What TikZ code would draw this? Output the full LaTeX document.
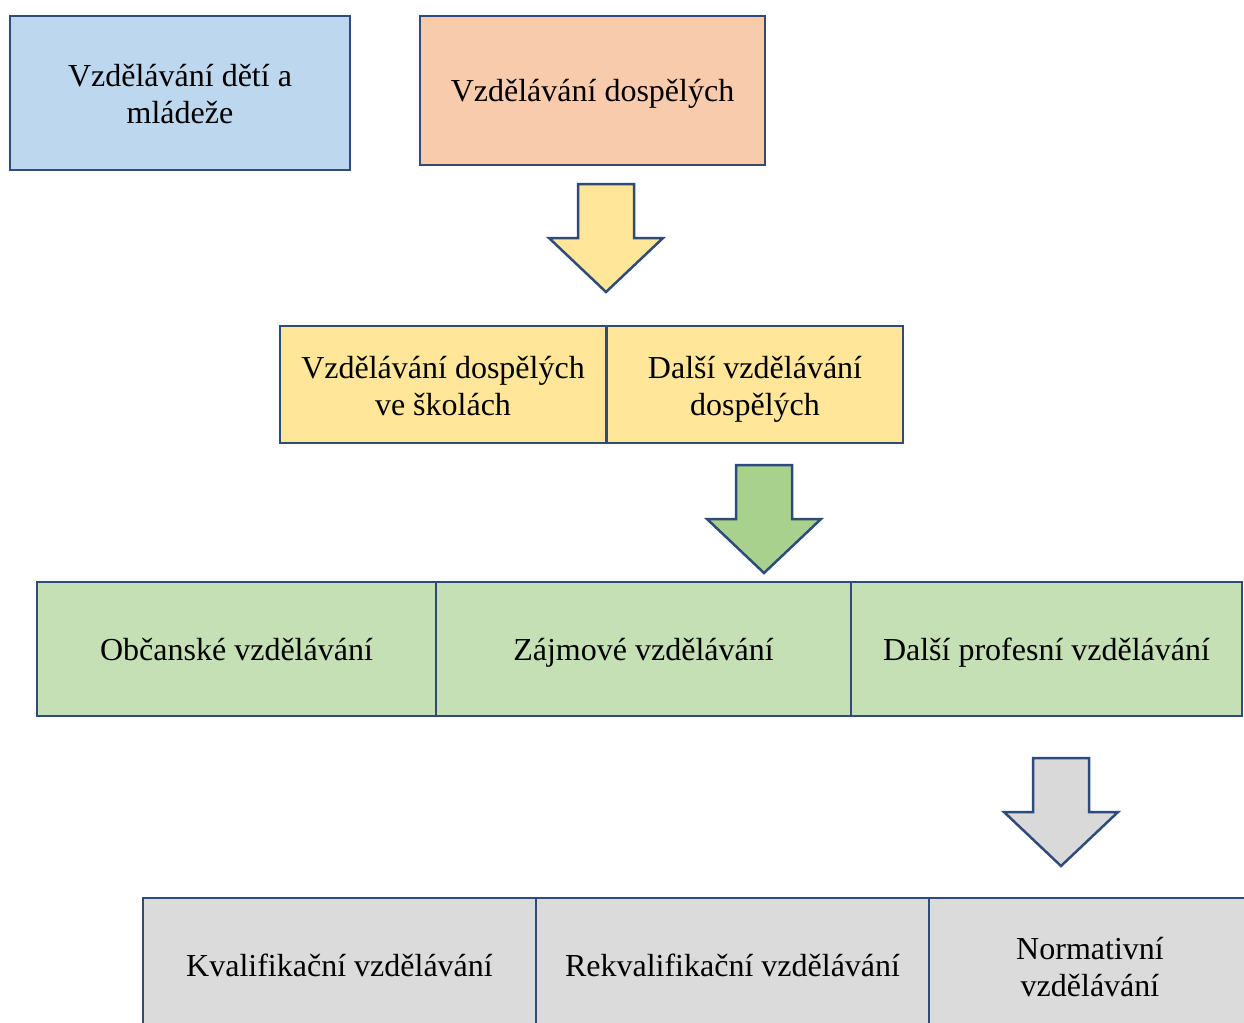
\documentclass[tikz,border=0pt]{standalone}
\usepackage{fontspec}
\setmainfont{Liberation Serif}
\usepackage{tikz}

\definecolor{edgeblue}{HTML}{2F4B7C}
\definecolor{childblue}{HTML}{BDD7EE}
\definecolor{adultorange}{HTML}{F8CBAD}
\definecolor{schoolyellow}{HTML}{FFE699}
\definecolor{boxgreen}{HTML}{C5E0B4}
\definecolor{arrowgreen}{HTML}{A9D18E}
\definecolor{boxgray}{HTML}{DBDBDB}
\definecolor{arrowgray}{HTML}{D9D9D9}

\newcommand{\topstrut}{\rule{0pt}{31pt}}
\newcommand{\tallstrut}{\rule{0pt}{33pt}}
\newcommand{\botstrut}{\rule[-8pt]{0pt}{8pt}}

\tikzset{
  downarrow/.pic={
    \path[pic actions] (-28,0) -- (28,0) -- (28,54) -- (57,54) -- (0,108)
      -- (-57,54) -- (-28,54) -- cycle;
  }
}

\begin{document}
\begin{tikzpicture}[x=1pt,y=-1pt,
                    every node/.style={draw=edgeblue,line width=2.5pt,inner sep=0pt,
                      align=center,font=\fontsize{32}{37}\selectfont,
                      execute at begin node=\topstrut,execute at end node=\botstrut},
                    every pic/.style={draw=edgeblue,line width=2.5pt}]
  \useasboundingbox (0,0) rectangle (1244,1022);
  \clip (0,0) rectangle (1244,1022);
  % top row
  \node[fill=childblue,minimum width=340,minimum height=154]   (a) at (180,93)   {\tallstrut Vzdělávání dětí a\\mládeže};
  \node[fill=adultorange,minimum width=345,minimum height=149] (b) at (592.5,90.5) {Vzdělávání dospělých};
  \pic[fill=schoolyellow] (ab) at (606,184) {downarrow};
  % second row
  \node[fill=schoolyellow,minimum width=326,minimum height=117] (c) at (443,384.5) {\tallstrut Vzdělávání dospělých\\ve školách};
  \node[fill=schoolyellow,minimum width=296,minimum height=117] (d) at (755,384.5) {\tallstrut Další vzdělávání\\dospělých};
  \pic[fill=arrowgreen] (de) at (764,465) {downarrow};
  % third row
  \node[fill=boxgreen,minimum width=399,minimum height=134] (e) at (236.5,649) {Občanské vzdělávání};
  \node[fill=boxgreen,minimum width=415,minimum height=134] (f) at (643.5,649) {Zájmové vzdělávání};
  \node[fill=boxgreen,minimum width=391,minimum height=134] (g) at (1046.5,649) {Další profesní vzdělávání};
  \pic[fill=arrowgray] (gh) at (1061,758) {downarrow};
  % bottom row
  \node[fill=boxgray,minimum width=393,minimum height=134] (h) at (339.5,965) {Kvalifikační vzdělávání};
  \node[fill=boxgray,minimum width=393,minimum height=134] (i) at (732.5,965) {Rekvalifikační vzdělávání};
  \node[fill=boxgray,minimum width=322,minimum height=134] (j) at (1090,965) {\tallstrut Normativní\\vzdělávání};
\end{tikzpicture}
\end{document}
